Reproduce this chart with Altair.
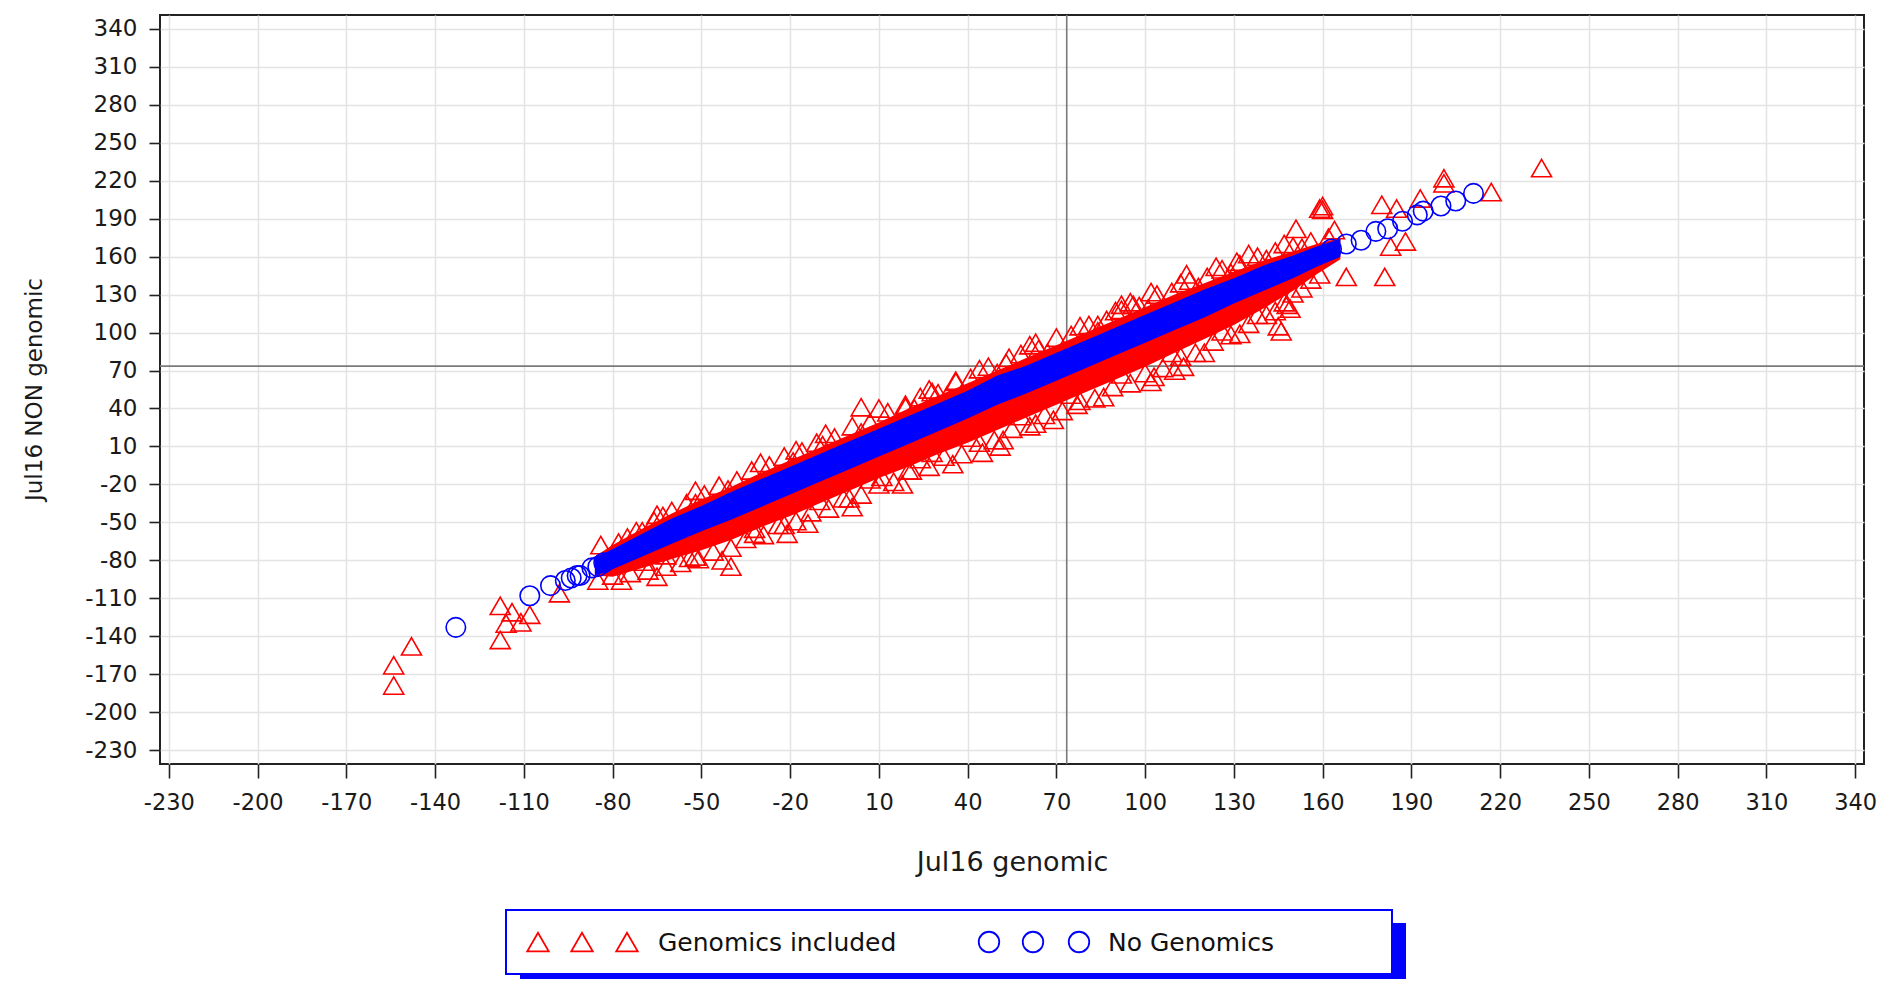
import altair as alt
import pandas as pd

# ---------------- data ----------------
tick_values = list(range(-230, 341, 30))
ref_value = 73.5

# dense core of the cloud (solid colour regions), per x position
band_x  = [-86, -80, -70, -60, -50, -40, -30, -20, -10, 0, 10, 20, 30, 40, 50, 60, 70, 80, 90, 100, 110, 120, 130, 140, 150, 158, 166]
blue_lo = [-92, -87, -77, -67, -57, -48, -38, -28, -18, -8, 2, 12, 22, 32, 43, 52, 62, 72, 82, 92, 102, 112, 123, 133, 143, 152, 160]
blue_hi = [-78, -71, -59, -47, -37, -26, -16, -6, 4, 14, 24, 34, 44, 54, 66, 74, 84, 94, 104, 114, 124, 134, 143, 153, 161, 168, 174]
red_lo  = [-92, -93, -86, -79, -72, -64, -54, -45, -35, -25, -15, -6, 4, 13, 23, 33, 43, 53, 63, 73, 84, 95, 106, 119, 133, 146, 158]
red_hi  = [-77, -68, -55, -43, -32, -22, -11, -1, 9, 19, 29, 40, 50, 60, 70, 80, 90, 100, 110, 120, 130, 139, 148, 157, 164, 170, 175]

# triangles along the upper edge of the red cloud
red_up_x = [-78, -72, -66, -60, -55, -49, -44, -38, -33, -27, -22, -16, -11, -5, 1, 7, 13, 19, 24, 30, 36, 41, 47, 53, 58, 64, 70, 75, 81, 87, 92, 98, 104, 109, 115, 121, 126, 132, 138, 144, 150, 156, 162]
red_up_y = [-66, -57, -49, -41, -35, -28, -21, -17, -9, -5, 2, 6, 13, 17, 26, 29, 37, 41, 49, 52, 61, 64, 73, 76, 83, 87, 96, 98, 106, 110, 118, 121, 130, 132, 141, 144, 150, 154, 160, 164, 168, 172, 175]
red_up2_x = [-75, -63, -52, -41, -30, -19, -8, 4, 10, 22, 27, 33, 44, 50, 61, 67, 78, 84, 95, 101, 112, 118, 124, 129, 135, 141, 147, 153]
red_up2_y = [-62, -45, -25, -24, -3, -2, 20, 21, 40, 40, 55, 50, 71, 68, 90, 84, 105, 101, 124, 119, 139, 136, 152, 147, 162, 158, 170, 167]
# triangles along the lower edge of the red cloud
red_dn_x = [-80, -74, -68, -62, -57, -51, -46, -40, -35, -29, -24, -18, -13, -7, -2, 4, 10, 15, 21, 27, 32, 38, 44, 49, 55, 61, 66, 72, 78, 83, 89, 95, 100, 106, 112, 117, 123, 129, 135, 141, 147, 153, 159]
red_dn_y = [-92, -90, -88, -85, -82, -79, -73, -70, -63, -60, -52, -49, -42, -39, -31, -28, -20, -18, -9, -6, 2, 4, 13, 15, 24, 26, 35, 38, 46, 48, 57, 60, 68, 72, 81, 84, 93, 98, 107, 114, 124, 135, 146]
red_dn2_x = [-77, -65, -54, -43, -32, -21, -10, 1, 7, 18, 24, 35, 41, 52, 58, 69, 75, 86, 92, 103, 109, 120, 126, 132, 138, 144, 150, 156]
red_dn2_y = [-96, -93, -78, -80, -55, -59, -33, -38, -16, -20, 0, -4, 17, 15, 34, 31, 51, 49, 67, 65, 84, 84, 101, 99, 114, 117, 131, 142]
# isolated red triangles
red_out_x = [-154, -154, -148, -118, -118, -114, -116, -111, -108, -98, -85, -84, -70, -65, -69, -52, -62, -40, -32, -22, -14, 0, 4, 45, 51, 28, 20, 11, -18, -9, -52, 63, 102, 113, 110, 77, 63, 145, 148, 102, 114, 131, 151, 159, 92, 96, 90, 84, 54, 234, 217, 201, 201, 193, 180, 185, 183, 188, 181, 168, 160, 160, 164, 149, 146, 36, 28, 19]
red_out_y = [-179, -163, -148, -116, -143, -121, -130, -129, -123, -106, -96, -68, -57, -44, -81, -35, -76, -85, -59, -52, -51, -31, 41, 5, 10, 5, -9, -14, 7, 11, -77, 92, 61, 73, 70, 43, 28, 105, 122, 132, 146, 156, 182, 198, 122, 122, 117, 106, 80, 230, 211, 218, 222, 206, 201, 198, 168, 172, 144, 144, 197, 200, 181, 119, 101, 62, 53, 43]

# isolated blue circles (ends of the cloud)
blue_pt_x = [-133, -108, -101, -96, -94, -92, -91, -87, -85, -83, 163, 168, 173, 178, 182, 187, 192, 194, 200, 205, 211]
blue_pt_y = [-133, -108, -100, -96, -94, -92, -92, -86, -85, -82, 166, 170, 173, 180, 182, 188, 193, 196, 200, 204, 210]

legend_labels = ["Genomics included", "No Genomics"]

# ---------------- styling ----------------
RED = "#ff0000"
BLUE = "#0000ff"
FONT = "DejaVu Sans"
W, H = 1704, 749

band_df = pd.DataFrame({"x": band_x, "blue_lo": blue_lo, "blue_hi": blue_hi,
                        "red_lo": red_lo, "red_hi": red_hi})
red_df = pd.DataFrame({"x": red_up_x + red_up2_x + red_dn_x + red_dn2_x + red_out_x,
                       "y": red_up_y + red_up2_y + red_dn_y + red_dn2_y + red_out_y})
blue_df = pd.DataFrame({"x": blue_pt_x, "y": blue_pt_y})
one = pd.DataFrame({"k": [0]})

xscale = alt.Scale(domain=[-233, 343], nice=False, zero=False)
yscale = alt.Scale(domain=[-241, 351], nice=False, zero=False)

hyphen = "replace(datum.label, '\u2212', '-')"

xaxis = alt.Axis(values=tick_values, title="Jul16 genomic", grid=True,
                 gridColor="#e3e3e3", gridWidth=1.5, domain=False,
                 tickSize=14, tickWidth=1.6, tickColor="#222222",
                 labelFont=FONT, labelFontSize=22.5, labelColor="#1a1a1a",
                 labelPadding=13, labelFlush=False, labelOverlap=False,
                 labelExpr=hyphen,
                 titleFont=FONT, titleFontSize=27, titleFontWeight="normal",
                 titleColor="#1a1a1a", titleX=852, titleY=106,
                 titleAlign="center", titleBaseline="alphabetic")
yaxis = alt.Axis(values=tick_values, title="Jul16 NON genomic", grid=True,
                 gridColor="#e3e3e3", gridWidth=1.5, domain=False,
                 tickSize=11, tickWidth=1.6, tickColor="#222222",
                 labelFont=FONT, labelFontSize=23, labelColor="#1a1a1a",
                 labelPadding=12, labelFlush=False, labelOverlap=False,
                 labelExpr=hyphen,
                 titleFont=FONT, titleFontSize=23, titleFontWeight="normal",
                 titleColor="#1a1a1a", titleX=-126, titleY=374,
                 titleAngle=270, titleAlign="center", titleBaseline="middle")

ref_v = alt.Chart(one).mark_rule(color="#7a7a7a", strokeWidth=1.6).encode(
    x=alt.X(datum=ref_value, scale=xscale, axis=xaxis))
ref_h = alt.Chart(one).mark_rule(color="#7a7a7a", strokeWidth=1.6).encode(
    y=alt.Y(datum=ref_value, scale=yscale, axis=yaxis))

red_band = alt.Chart(band_df).mark_area(color=RED, opacity=1).encode(
    x=alt.X("x:Q", scale=xscale, axis=xaxis),
    y=alt.Y("red_lo:Q", scale=yscale, axis=yaxis),
    y2="red_hi:Q")
red_pts = alt.Chart(red_df).mark_point(shape="triangle-up", filled=False, color=RED,
                                       size=400, strokeWidth=1.6, opacity=1).encode(
    x=alt.X("x:Q", scale=xscale, axis=xaxis),
    y=alt.Y("y:Q", scale=yscale, axis=yaxis))
blue_band = alt.Chart(band_df).mark_area(color=BLUE, opacity=1).encode(
    x=alt.X("x:Q", scale=xscale, axis=xaxis),
    y=alt.Y("blue_lo:Q", scale=yscale, axis=yaxis),
    y2="blue_hi:Q")
blue_pts = alt.Chart(blue_df).mark_point(shape="circle", filled=False, color=BLUE,
                                         size=380, strokeWidth=1.6, opacity=1).encode(
    x=alt.X("x:Q", scale=xscale, axis=xaxis),
    y=alt.Y("y:Q", scale=yscale, axis=yaxis))

# ---------------- hand-made legend below the plot ----------------
leg = []
leg.append(alt.Chart(one).mark_rect(color=BLUE).encode(
    x=alt.value(360), x2=alt.value(1246), y=alt.value(908), y2=alt.value(975)))
leg.append(alt.Chart(one).mark_rect(fill="white", stroke=BLUE, strokeWidth=2).encode(
    x=alt.value(346), x2=alt.value(1232), y=alt.value(895), y2=alt.value(959)))
for px in [378, 422, 467]:
    leg.append(alt.Chart(one).mark_point(shape="triangle-up", filled=False, color=RED,
                                         size=460, strokeWidth=1.8, opacity=1).encode(
        x=alt.value(px), y=alt.value(927)))
for px in [829, 873, 919]:
    leg.append(alt.Chart(one).mark_point(shape="circle", filled=False, color=BLUE,
                                         size=420, strokeWidth=1.8, opacity=1).encode(
        x=alt.value(px), y=alt.value(927)))
leg.append(alt.Chart(one).mark_text(align="left", baseline="middle", font=FONT,
                                    fontSize=25, color="#111111").encode(
    x=alt.value(498), y=alt.value(928), text=alt.value(legend_labels[0])))
leg.append(alt.Chart(one).mark_text(align="left", baseline="middle", font=FONT,
                                    fontSize=25, color="#111111").encode(
    x=alt.value(948), y=alt.value(928), text=alt.value(legend_labels[1])))

chart = alt.layer(ref_v, ref_h, red_band, red_pts, blue_band, blue_pts, *leg).properties(
    width=W, height=H,
    autosize=alt.AutoSizeParams(type="none"),
    padding={"left": 152, "top": 7, "right": 14, "bottom": 215},
).configure_view(stroke="#222222", strokeWidth=2)

chart.save("out.html", embed_options={"renderer": "svg", "actions": False})
